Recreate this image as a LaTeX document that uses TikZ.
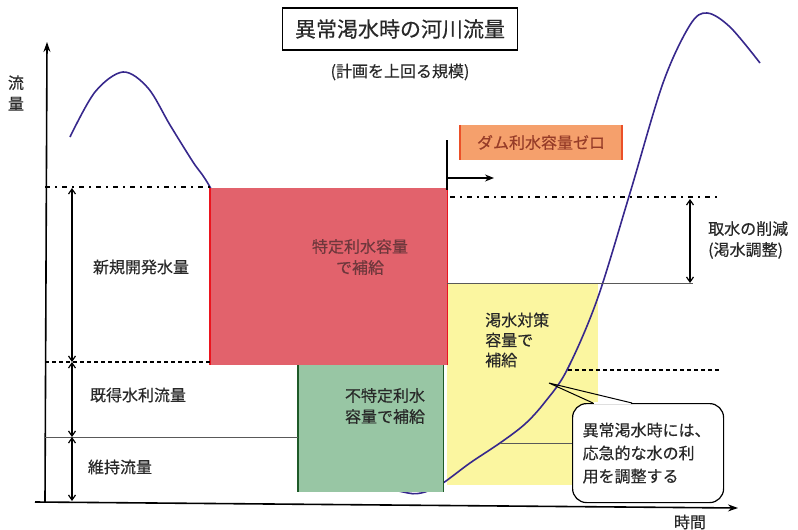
\documentclass[tikz,border=0pt]{standalone}
\usepackage{fontspec}
\newfontfamily\jp[FakeBold=0.35]{Noto Sans CJK JP}
\usetikzlibrary{arrows.meta,calc}
\definecolor{flow}{RGB}{55,40,140}
\definecolor{redfill}{RGB}{226,98,108}
\definecolor{redline}{RGB}{235,20,30}
\definecolor{redtext}{RGB}{110,55,60}
\definecolor{greenfill}{RGB}{152,198,164}
\definecolor{greenline}{RGB}{30,90,40}
\definecolor{yellowfill}{RGB}{251,246,160}
\definecolor{orangefill}{RGB}{245,160,108}
\definecolor{orangeline}{RGB}{235,80,40}
\definecolor{orangetext}{RGB}{150,60,40}
\definecolor{txt}{RGB}{40,40,40}
\begin{document}
\begin{tikzpicture}[x=1pt,y=-1pt,
  lbl/.style={font=\jp\fontsize{16}{21}\selectfont, text=txt, inner sep=0pt, align=center},
  axisline/.style={line width=1.6pt, -{Stealth[length=10pt,width=7pt]}},
  dimarrow/.style={line width=1.2pt, {Straight Barb[length=5pt,width=7pt]}-{Straight Barb[length=5pt,width=7pt]}},
  dashdotline/.style={line width=1.6pt, dash pattern=on 5pt off 5pt on 2pt off 5pt},
  dashline/.style={line width=1.5pt, dash pattern=on 4pt off 3pt},
  thinline/.style={line width=0.7pt, gray!70!black},
  flowcurve/.style={line width=1.6pt, flow},
  area/.style={inner sep=0pt, anchor=north west},
]
\useasboundingbox (0,0) rectangle (798,530);

% axes
\coordinate (o) at (45,502);
\coordinate (ytop) at (47,42);
\coordinate (xs) at (35,502);
\coordinate (xe) at (738,508);
\draw[axisline] (o) -- (ytop);
\draw[axisline] (xs) -- (xe);
\node[lbl] (ylab) at (16,93) {流\\量};
\node[lbl] (xlab) at (690,522) {時間};

% title
\node[draw, line width=1.3pt, minimum width=235pt, minimum height=42pt, inner sep=0pt,
      font=\jp\fontsize{21}{24}\selectfont, text=txt] (title) at (400,29) {異常渇水時の河川流量};
\node[lbl] (subtitle) at (400,72) {(計画を上回る規模)};

% yellow area
\node[area, fill=yellowfill, minimum width=151pt, minimum height=202pt] (yellow) at (447,283) {};

% flow curve
\draw[flowcurve] plot[smooth, tension=0.55] coordinates {(70,137) (95,92) (123,72) (148,88) (170,125) (193,162) (210,187) (250,262) (300,352) (345,440) (380,482) (408,493) (425,492) (443,483) (470,463) (500,443) (525,424) (545,402) (567,370) (597,300) (630,193) (663,83) (690,25) (707,13) (730,27) (760,63)};

% red area
\node[area, fill=redfill, minimum width=237pt, minimum height=177pt] (red) at (210,188) {};
\draw[redline, line width=1.5pt] (red.north west) -- (red.south west);
\draw[redline, line width=1.5pt] (red.north east) -- (red.south east);
\node[lbl, text=redtext] (redtxt) at (360,257) {特定利水容量\\で補給};

% green area
\node[area, fill=greenfill, minimum width=145pt, minimum height=127pt] (green) at (298,365) {};
\draw[greenline, line width=1.3pt] (green.north west) -- (green.south west);
\draw[greenline, line width=1.3pt] (green.north east) -- (green.south east);
\node[lbl] (greentxt) at (385,406) {不特定利水\\容量で補給};

% yellow text
\node[lbl, align=left, anchor=west, font=\jp\fontsize{16}{20}\selectfont] (ytxt) at (485,340) {渇水対策\\容量で\\補給};

% level lines
\coordinate (l1a) at (45,187);  \coordinate (l1b) at (210,187);
\coordinate (r1a) at (450,197); \coordinate (r1b) at (720,197);
\coordinate (l2a) at (45,362);  \coordinate (l2b) at (210,362);
\coordinate (r2a) at (568,370); \coordinate (r2b) at (720,370);
\coordinate (l3a) at (45,437);  \coordinate (l3b) at (298,437);
\coordinate (r3a) at (500,443); \coordinate (r3b) at (572,443);
\coordinate (h4a) at (447,283); \coordinate (h4b) at (693,283);
\draw[dashdotline] (l1a) -- (l1b);
\draw[dashdotline] (r1a) -- (r1b);
\draw[dashline] (l2a) -- (l2b);
\draw[dashline] (r2a) -- (r2b);
\draw[thinline] (l3a) -- (l3b);
\draw[thinline] (r3a) -- (r3b);
\draw[thinline] (h4a) -- (h4b);

% dimension arrows
\coordinate (d0) at (72,188);
\coordinate (d1) at (72,362);
\coordinate (d2) at (72,437);
\coordinate (d3) at (72,501);
\draw[dimarrow] (d0) -- (d1);
\draw[dimarrow] (d1) -- (d2);
\draw[dimarrow] (d2) -- (d3);
\node[lbl] (new) at (141,267) {新規開発水量};
\node[lbl] (exist) at (138,395) {既得水利流量};
\node[lbl] (keep) at (120,467) {維持流量};

\coordinate (e0) at (690,199);
\coordinate (e1) at (690,283);
\draw[dimarrow] (e0) -- (e1);
\node[lbl, align=left, anchor=west, font=\jp\fontsize{16}{21}\selectfont] (cut) at (708,240) {取水の削減\\(渇水調整)};

% dam zero marker
\coordinate (v0) at (447,140);
\coordinate (v1) at (447,190);
\coordinate (a0) at (447,178);
\coordinate (a1) at (494,178);
\draw[line width=1.2pt] (v0) -- (v1);
\draw[line width=1.2pt, -{Stealth[length=9pt,width=7pt]}] (a0) -- (a1);
\node[fill=orangefill, minimum width=162pt, minimum height=35pt, inner sep=0pt,
      font=\jp\fontsize{16}{20}\selectfont, text=orangetext] (dam) at (541,142.5) {ダム利水容量ゼロ};
\draw[orangeline, line width=1.5pt] (dam.north west) -- (dam.south west);
\draw[orangeline, line width=1.5pt] (dam.north east) -- (dam.south east);

% callout
\node[area, draw, fill=white, line width=1.2pt, rounded corners=14pt, minimum width=151pt, minimum height=99pt,
      font=\jp\fontsize{16}{23}\selectfont, text=txt, align=left, text width=131pt, inner xsep=10pt] (callout) at (572,403)
      {異常渇水時には、\\応急的な水の利\\用を調整する};
\coordinate (ctip) at (549,383);
\draw[white, line width=2.5pt] ($(callout.north west)+(22,0)$) -- ($(callout.north west)+(59,0)$);
\draw[line width=1pt] ($(callout.north west)+(21,0)$) -- (ctip) -- ($(callout.north west)+(60,0)$);
\end{tikzpicture}
\end{document}
